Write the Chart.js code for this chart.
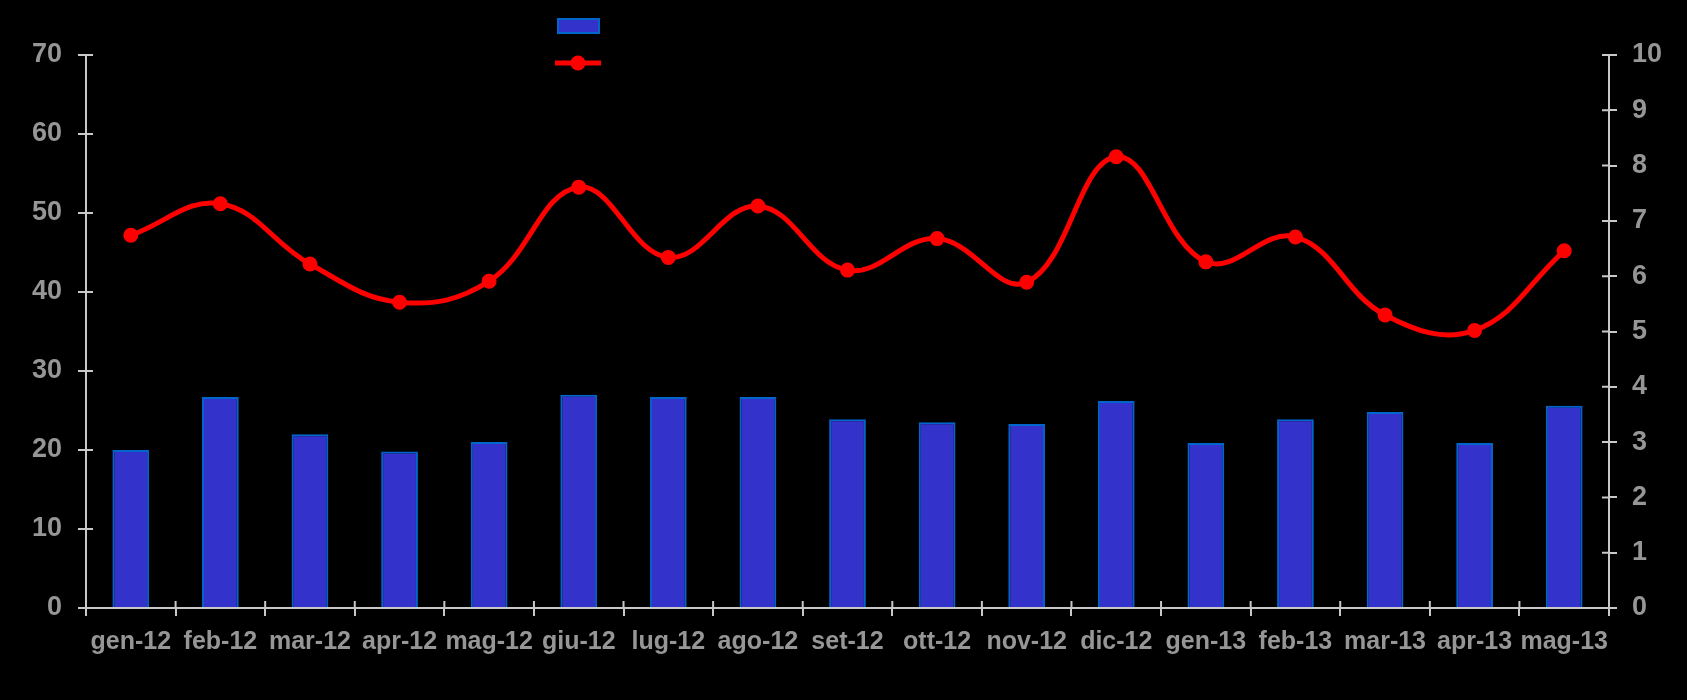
<!DOCTYPE html>
<html>
<head>
<meta charset="utf-8">
<script src="https://cdn.jsdelivr.net/npm/chart.js@4/dist/chart.umd.min.js"></script>
<style>
  html, body { margin: 0; padding: 0; background: #000; }
  #wrap { width: 1687px; height: 700px; }
</style>
</head>
<body>
<div id="wrap"><canvas id="myChart" width="1687" height="700"></canvas></div>
<script>
const months = ['gen-12', 'feb-12', 'mar-12', 'apr-12', 'mag-12', 'giu-12', 'lug-12', 'ago-12', 'set-12',
    'ott-12', 'nov-12', 'dic-12', 'gen-13', 'feb-13', 'mar-13', 'apr-13', 'mag-13'];
const barValues = [20, 26.7, 22, 19.8, 21, 27, 26.7, 26.7, 23.9, 23.5, 23.3, 26.2, 20.9, 23.9, 24.8, 20.9, 25.6];
const lineValues = [6.74, 7.31, 6.22, 5.53, 5.91, 7.61, 6.34, 7.27, 6.11, 6.68, 5.89, 8.16, 6.26, 6.71, 5.30, 5.02, 6.46];
const leftTicks = [0, 10, 20, 30, 40, 50, 60, 70];
const rightTicks = [0, 1, 2, 3, 4, 5, 6, 7, 8, 9, 10];

const axisColor = '#c8c8c8';
const labelColor = '#969696';

// ticks in the reference cross the axis line, chart.js only draws the outer half
const innerTicks = {
    id: 'innerTicks',
    afterDraw(chart) {
        const c = chart.ctx;
        const area = chart.chartArea;
        c.save();
        c.strokeStyle = axisColor;
        c.lineWidth = 2;
        c.beginPath();
        const x = chart.scales.x;
        for (let i = 0; i <= months.length; i++) {
            const px = x.getPixelForValue(i - 0.5);
            c.moveTo(px, area.bottom);
            c.lineTo(px, area.bottom - 7);
        }
        chart.scales.y.ticks.forEach(t => {
            const py = chart.scales.y.getPixelForValue(t.value);
            c.moveTo(area.left, py);
            c.lineTo(area.left + 7, py);
        });
        chart.scales.y1.ticks.forEach(t => {
            const py = chart.scales.y1.getPixelForValue(t.value);
            c.moveTo(area.right, py);
            c.lineTo(area.right - 7, py);
        });
        c.stroke();
        c.restore();
    }
};

// legend symbols only (labels are black on black in the original)
const legendKeys = {
    id: 'legendKeys',
    afterDraw(chart) {
        const c = chart.ctx;
        const bars = chart.data.datasets[0];
        const line = chart.data.datasets[1];
        c.save();
        c.fillStyle = bars.backgroundColor;
        c.strokeStyle = bars.borderColor;
        c.lineWidth = 2;
        c.fillRect(558, 19, 41, 14);
        c.strokeRect(558, 19, 41, 14);
        c.strokeStyle = line.borderColor;
        c.lineWidth = 5;
        c.beginPath();
        c.moveTo(555, 63);
        c.lineTo(601, 63);
        c.stroke();
        c.fillStyle = line.pointBackgroundColor;
        c.beginPath();
        c.arc(578, 63, 7.5, 0, Math.PI * 2);
        c.fill();
        c.restore();
    }
};

const ctx = document.getElementById('myChart');
const myChart = new Chart(ctx, {
    data: {
        labels: months,
        datasets: [{
            type: 'bar',
            label: '',
            data: barValues,
            yAxisID: 'y',
            backgroundColor: '#3333cc',
            borderColor: '#0066cc',
            borderWidth: 2,
            barPercentage: 0.41,
            categoryPercentage: 1,
            order: 1
        }, {
            type: 'line',
            label: '',
            data: lineValues,
            yAxisID: 'y1',
            borderColor: '#ff0000',
            backgroundColor: '#ff0000',
            pointBackgroundColor: '#ff0000',
            pointBorderColor: '#ff0000',
            borderWidth: 5,
            pointRadius: 6.5,
            pointBorderWidth: 2,
            tension: 0.4,
            order: 0
        }]
    },
    options: {
        responsive: false,
        animation: false,
        layout: {
            padding: { top: 55, bottom: 0, left: 0, right: 0 }
        },
        scales: {
            x: {
                offset: true,
                grid: {
                    offset: true,
                    drawOnChartArea: false,
                    color: axisColor,
                    lineWidth: 2,
                    tickLength: 8
                },
                border: { color: axisColor, width: 2 },
                ticks: {
                    color: labelColor,
                    padding: 11,
                    maxRotation: 0,
                    autoSkip: false,
                    font: { family: 'Liberation Sans', size: 25, weight: 'bold' }
                },
                afterFit(scale) { scale.height = 92; }
            },
            y: {
                position: 'left',
                min: 0,
                max: 70,
                afterBuildTicks(scale) { scale.ticks = leftTicks.map(v => ({ value: v })); },
                grid: {
                    drawOnChartArea: false,
                    color: axisColor,
                    lineWidth: 2,
                    tickLength: 8
                },
                border: { color: axisColor, width: 2 },
                ticks: {
                    color: labelColor,
                    padding: 16,
                    font: { family: 'Liberation Sans', size: 27, weight: 'bold' }
                },
                afterFit(scale) { scale.width = 86; }
            },
            y1: {
                position: 'right',
                min: 0,
                max: 10,
                afterBuildTicks(scale) { scale.ticks = rightTicks.map(v => ({ value: v })); },
                grid: {
                    drawOnChartArea: false,
                    color: axisColor,
                    lineWidth: 2,
                    tickLength: 8
                },
                border: { color: axisColor, width: 2 },
                ticks: {
                    color: labelColor,
                    padding: 15,
                    font: { family: 'Liberation Sans', size: 27, weight: 'bold' }
                },
                afterFit(scale) { scale.width = 78; }
            }
        },
        plugins: {
            legend: { display: false },
            tooltip: { enabled: false }
        }
    },
    plugins: [innerTicks, legendKeys]
});
</script>
</body>
</html>
